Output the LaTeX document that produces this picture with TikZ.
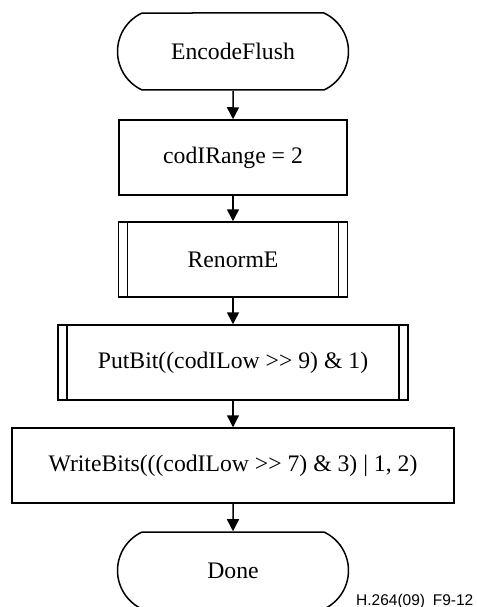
\documentclass[tikz,border=0pt]{standalone}
\usepackage{fontspec}
\setmainfont{Liberation Serif}
\newfontfamily\labelfont{Liberation Sans}
\usetikzlibrary{shapes.misc,arrows.meta}

\tikzset{
  flow/.style={line width=1.5pt},
  terminal/.style={flow, draw, rounded rectangle, rounded rectangle arc length=130,
    minimum width=231pt, minimum height=77pt, inner sep=0pt},
  process/.style={flow, draw, rectangle, minimum height=75pt, inner sep=0pt},
  subproc/.style={process, path picture={
      \draw[flow] ([xshift=9pt]path picture bounding box.north west) --
        ([xshift=9pt]path picture bounding box.south west);
      \draw[flow] ([xshift=-9pt]path picture bounding box.north east) --
        ([xshift=-9pt]path picture bounding box.south east);}},
  arrow/.style={flow, -{Triangle[length=12pt,width=12pt]}}
}

\begin{document}
\begin{tikzpicture}[x=1pt,y=-1pt,font=\fontsize{23.7pt}{28pt}\selectfont]
\useasboundingbox (0,0) rectangle (476,607);

\node[terminal] (start) at (233,51.5) {EncodeFlush};
\node[process, minimum width=228pt] (range) at (233,157.5) {codIRange = 2};
\node[subproc, minimum width=229pt] (renorm) at (233,259.5) {RenormE};
\node[subproc, minimum width=350pt] (putbit) at (233,362.5) {PutBit((codILow {>}{>} 9) \& 1)};
\node[process, minimum width=442pt] (writebits) at (233,465.5) {WriteBits(((codILow {>}{>} 7) \& 3) | 1, 2)};
\node[terminal] (done) at (233,570.5) {Done};

% connectors
\draw[arrow] (start) -- (range);
\draw[arrow] (range) -- (renorm);
\draw[arrow] (renorm) -- (putbit);
\draw[arrow] (putbit) -- (writebits);
\draw[arrow] (writebits) -- (done);

% figure tag
\node[font=\labelfont\fontsize{15.5pt}{18pt}\selectfont, anchor=base west, inner sep=0pt]
  (figtag) at (356,605) {H.264(09)\hspace{0.5em}F9-12};
\end{tikzpicture}
\end{document}
